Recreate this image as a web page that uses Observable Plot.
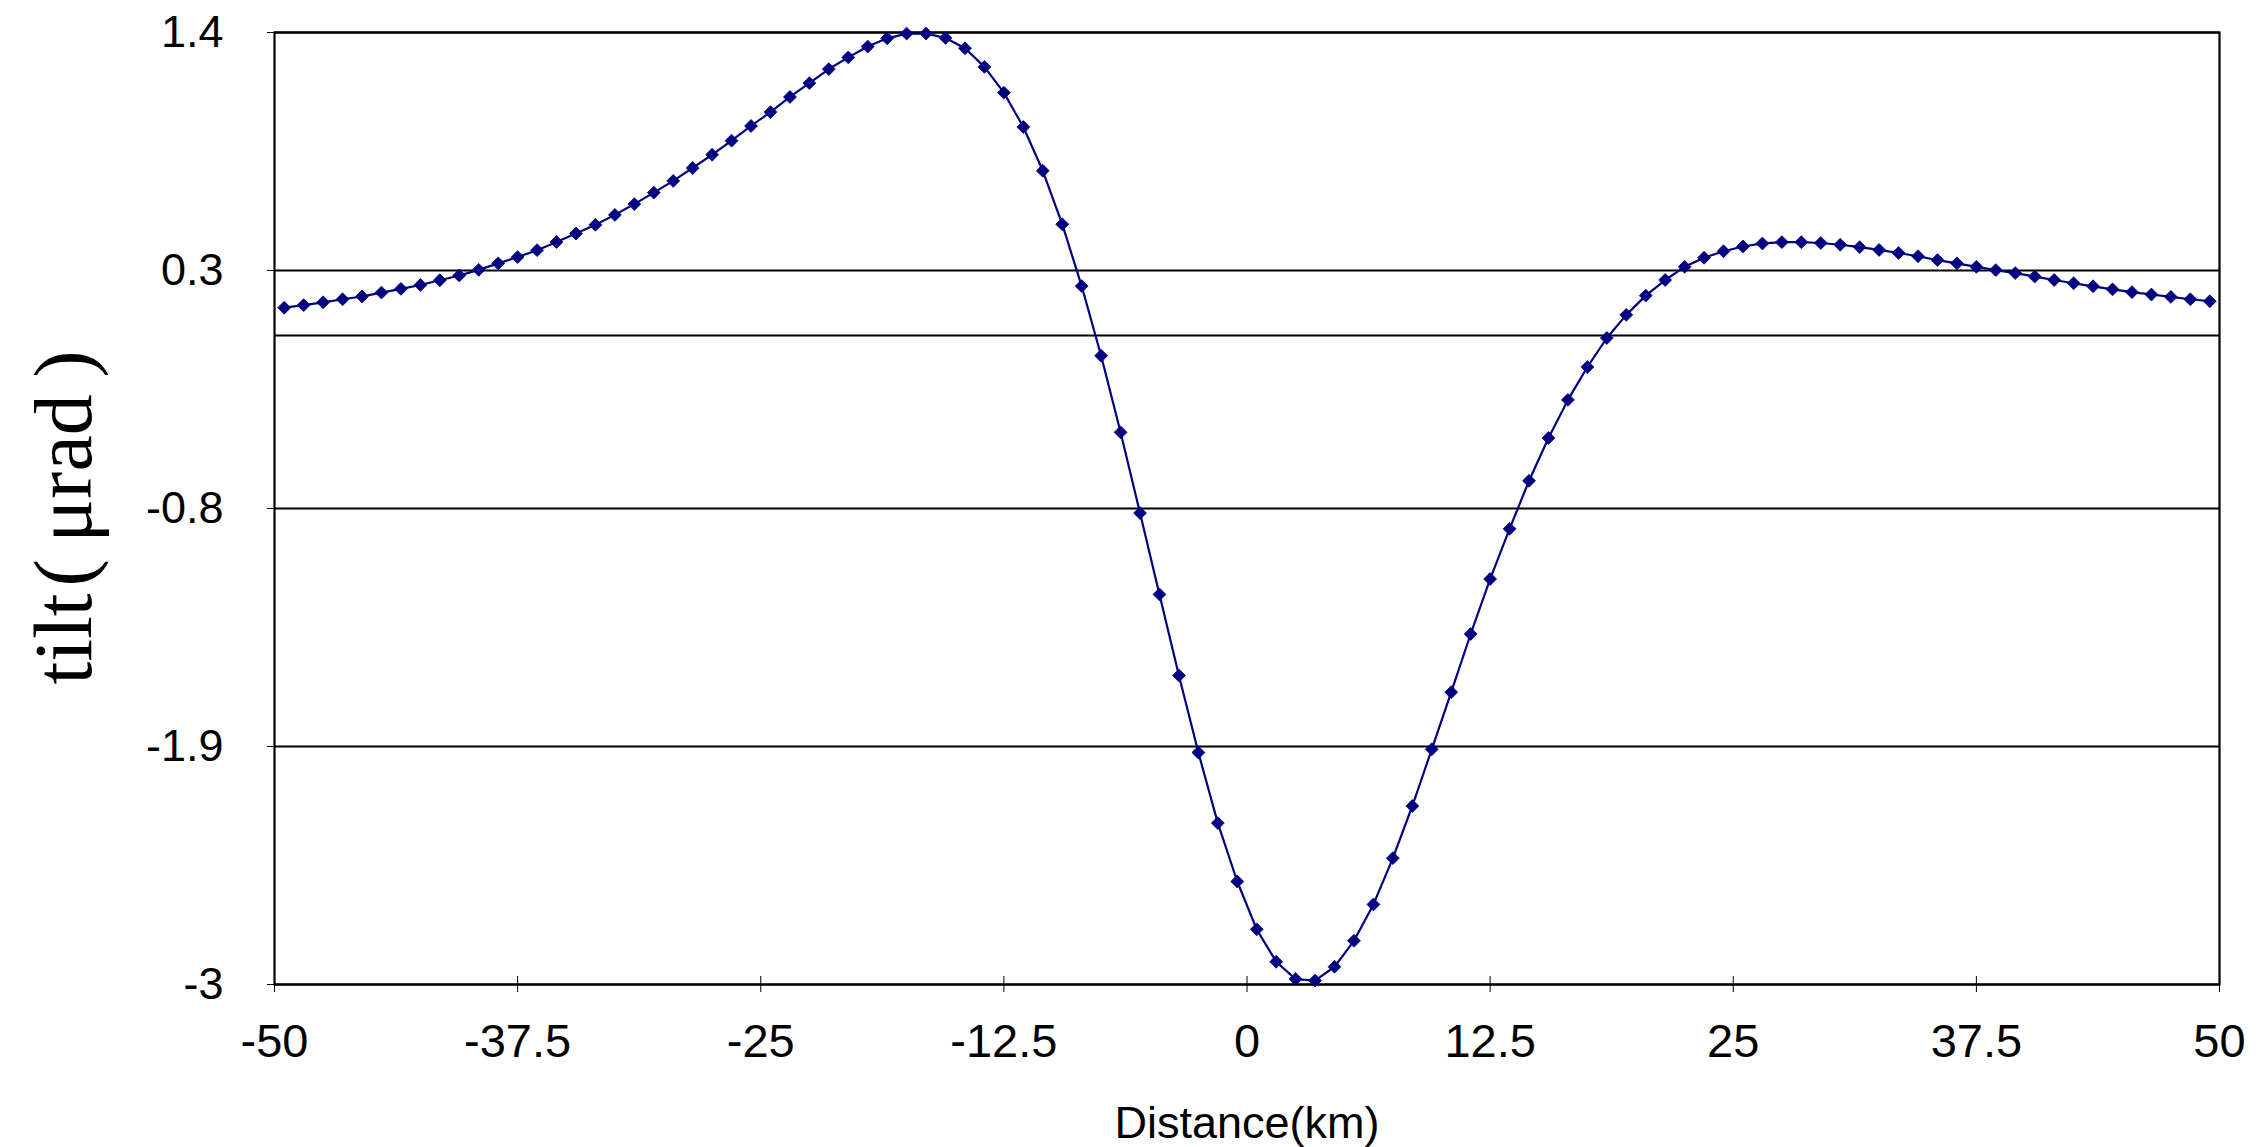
<!DOCTYPE html>
<html>
<head>
<meta charset="utf-8">
<script src="https://cdn.jsdelivr.net/npm/d3@7"></script>
<script src="https://cdn.jsdelivr.net/npm/@observablehq/plot@0.6"></script>
<style>
  html, body { margin: 0; padding: 0; background: #fff; overflow: hidden; }
  #chart svg { display: block; }
</style>
</head>
<body>
<div id="chart"></div>
<script>
// Distance (km) of each modelled station
const distance = [
  -49.5, -48.5, -47.5, -46.5, -45.5, -44.5, -43.5, -42.5, -41.5, -40.5,
  -39.5, -38.5, -37.5, -36.5, -35.5, -34.5, -33.5, -32.5, -31.5, -30.5,
  -29.5, -28.5, -27.5, -26.5, -25.5, -24.5, -23.5, -22.5, -21.5, -20.5,
  -19.5, -18.5, -17.5, -16.5, -15.5, -14.5, -13.5, -12.5, -11.5, -10.5,
  -9.5, -8.5, -7.5, -6.5, -5.5, -4.5, -3.5, -2.5, -1.5, -0.5,
  0.5, 1.5, 2.5, 3.5, 4.5, 5.5, 6.5, 7.5, 8.5, 9.5,
  10.5, 11.5, 12.5, 13.5, 14.5, 15.5, 16.5, 17.5, 18.5, 19.5,
  20.5, 21.5, 22.5, 23.5, 24.5, 25.5, 26.5, 27.5, 28.5, 29.5,
  30.5, 31.5, 32.5, 33.5, 34.5, 35.5, 36.5, 37.5, 38.5, 39.5,
  40.5, 41.5, 42.5, 43.5, 44.5, 45.5, 46.5, 47.5, 48.5, 49.5
];
// Tilt (microradians)
const tilt = [
  0.128, 0.140, 0.153, 0.167, 0.180, 0.198, 0.215, 0.233, 0.255, 0.277,
  0.303, 0.333, 0.362, 0.394, 0.432, 0.471, 0.511, 0.557, 0.607, 0.660,
  0.714, 0.774, 0.835, 0.900, 0.968, 1.032, 1.102, 1.166, 1.231, 1.285,
  1.335, 1.373, 1.395, 1.395, 1.375, 1.327, 1.241, 1.122, 0.963, 0.761,
  0.514, 0.228, -0.094, -0.448, -0.821, -1.197, -1.572, -1.928, -2.254, -2.524,
  -2.745, -2.895, -2.975, -2.982, -2.918, -2.798, -2.630, -2.416, -2.175, -1.913,
  -1.649, -1.380, -1.126, -0.894, -0.672, -0.474, -0.298, -0.146, -0.012, 0.095,
  0.184, 0.256, 0.317, 0.359, 0.389, 0.411, 0.425, 0.431, 0.431, 0.427,
  0.419, 0.408, 0.395, 0.381, 0.366, 0.348, 0.333, 0.317, 0.302, 0.288,
  0.272, 0.256, 0.241, 0.227, 0.213, 0.200, 0.189, 0.178, 0.167, 0.158
];
const xTicks = [-50, -37.5, -25, -12.5, 0, 12.5, 25, 37.5, 50];
const xTickLabels = ["-50", "-37.5", "-25", "-12.5", "0", "12.5", "25", "37.5", "50"];
const yTicks = [1.4, 0.3, -0.8, -1.9, -3];
const yTickLabels = ["1.4", "0.3", "-0.8", "-1.9", "-3"];
const zeroLine = [0];
const xTitle = "Distance(km)";
const yTitle = "tilt\u200a(\u2009\u03bcrad\u2009)";

const data = distance.map((d, i) => ({distance: d, tilt: tilt[i]}));
const lineColor = "#000080";
const sans = "'Liberation Sans', Arial, Helvetica, sans-serif";

const chart = Plot.plot({
  width: 2261,
  height: 1147,
  marginLeft: 274,
  marginRight: 42,
  marginTop: 32,
  marginBottom: 163,
  style: {fontFamily: sans, background: "#fff", color: "#000", overflow: "visible"},
  x: {domain: [-50, 50]},
  y: {domain: [-3, 1.4]},
  marks: [
    Plot.ruleY(yTicks, {stroke: "#000", strokeWidth: 2}),
    Plot.ruleY(zeroLine, {stroke: "#000", strokeWidth: 2}),
    Plot.frame({stroke: "#000", strokeWidth: 2.2}),
    Plot.axisX({
      ticks: xTicks,
      tickFormat: (d) => xTickLabels[xTicks.indexOf(d)],
      tickSize: 8, tickPadding: 31, tickWidth: 2,
      fontSize: 47, label: null, stroke: "#000"
    }),
    Plot.axisX({
      ticks: xTicks, tickFormat: () => "", tickSize: -8, tickWidth: 2,
      label: null, stroke: "#000"
    }),
    Plot.axisY({
      ticks: yTicks,
      tickFormat: (d) => yTickLabels[yTicks.indexOf(d)],
      tickSize: 7, tickPadding: 44, tickWidth: 2,
      fontSize: 45, label: null, stroke: "#000"
    }),
    Plot.line(data, {x: "distance", y: "tilt", stroke: lineColor, strokeWidth: 2.2}),
    Plot.dot(data, {x: "distance", y: "tilt", symbol: "diamond2", r: 5.8, fill: lineColor, stroke: lineColor, strokeWidth: 0.8}),
    Plot.text([xTitle], {
      text: (d) => d, frameAnchor: "bottom", lineAnchor: "bottom", dy: 153,
      fontSize: 45, fill: "#000", fontFamily: sans
    }),
    Plot.text([yTitle], {
      text: (d) => d, frameAnchor: "left", textAnchor: "middle", rotate: -90, dx: -210, dy: 9,
      fontSize: 82, fill: "#000", fontFamily: "'Liberation Serif', 'Times New Roman', Times, serif",
      letterSpacing: 3
    })
  ]
});
document.getElementById("chart").appendChild(chart);
</script>
</body>
</html>
